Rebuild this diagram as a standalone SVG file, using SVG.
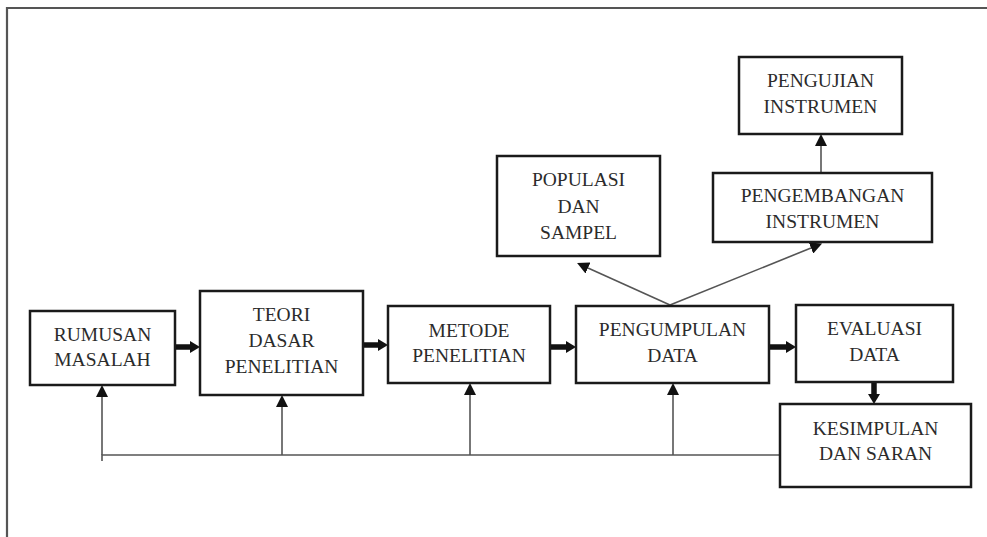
<svg xmlns="http://www.w3.org/2000/svg" width="987" height="537" viewBox="0 0 987 537">
<style>
.box{fill:#fff;stroke:#1a1a1a;stroke-width:2.5}
.t{font-family:"Liberation Serif","Times New Roman",serif;font-size:19.5px;fill:#2b2b2b;text-anchor:middle}
.thick{stroke:#111;stroke-width:5.5;fill:none}
.thin{stroke:#555;stroke-width:1.6;fill:none}
.frame{stroke:#555;stroke-width:2.2;fill:none}
</style>
<defs>
<marker id="hb" markerUnits="userSpaceOnUse" viewBox="0 0 10 12" markerWidth="10" markerHeight="12" refX="0" refY="6" orient="auto">
<path d="M0,0 L10,6 L0,12 z" fill="#111"/>
</marker>
<marker id="ht" markerUnits="userSpaceOnUse" viewBox="0 0 12 12" markerWidth="12" markerHeight="12" refX="0" refY="6" orient="auto">
<path d="M0,0 L12,6 L0,12 z" fill="#111"/>
</marker>
</defs>
<rect width="987" height="537" fill="#fff"/>
<path class="frame" d="M7,537 V8 H987"/>
<g id="connectors">
<line class="thick" x1="175" y1="347" x2="190" y2="347" marker-end="url(#hb)"/>
<line class="thick" x1="363" y1="345" x2="378" y2="345" marker-end="url(#hb)"/>
<line class="thick" x1="550" y1="347" x2="566" y2="347" marker-end="url(#hb)"/>
<line class="thick" x1="769" y1="347" x2="786" y2="347" marker-end="url(#hb)"/>
<line class="thick" x1="874" y1="382" x2="874" y2="394" marker-end="url(#hb)"/>
<path class="thin" d="M780,455 H102 V461"/>
<line class="thin" x1="102" y1="455" x2="102" y2="397" marker-end="url(#ht)"/>
<line class="thin" x1="282" y1="455" x2="282" y2="407" marker-end="url(#ht)"/>
<line class="thin" x1="470" y1="455" x2="470" y2="395" marker-end="url(#ht)"/>
<line class="thin" x1="673" y1="455" x2="673" y2="395" marker-end="url(#ht)"/>
<line class="thin" x1="670" y1="305" x2="588" y2="268" marker-end="url(#ht)"/>
<line class="thin" x1="670" y1="305" x2="811" y2="248" marker-end="url(#ht)"/>
<line class="thin" x1="821" y1="173" x2="821" y2="146" marker-end="url(#ht)"/>
</g>
<g id="rumusan">
<rect class="box" x="30" y="311" width="145" height="74"/>
<text class="t" x="102.5" y="341">RUMUSAN</text>
<text class="t" x="102.5" y="366">MASALAH</text>
</g>
<g id="teori">
<rect class="box" x="200" y="291" width="163" height="104"/>
<text class="t" x="281.5" y="321">TEORI</text>
<text class="t" x="281.5" y="347">DASAR</text>
<text class="t" x="281.5" y="373">PENELITIAN</text>
</g>
<g id="metode">
<rect class="box" x="388" y="306" width="162" height="77"/>
<text class="t" x="469" y="337">METODE</text>
<text class="t" x="469" y="362">PENELITIAN</text>
</g>
<g id="pengumpulan">
<rect class="box" x="576" y="306" width="193" height="77"/>
<text class="t" x="672.5" y="336">PENGUMPULAN</text>
<text class="t" x="672.5" y="362">DATA</text>
</g>
<g id="evaluasi">
<rect class="box" x="796" y="305" width="157" height="77"/>
<text class="t" x="874.5" y="335">EVALUASI</text>
<text class="t" x="874.5" y="361">DATA</text>
</g>
<g id="kesimpulan">
<rect class="box" x="780" y="404" width="191" height="83"/>
<text class="t" x="875.5" y="435">KESIMPULAN</text>
<text class="t" x="875.5" y="460">DAN SARAN</text>
</g>
<g id="populasi">
<rect class="box" x="497" y="156" width="163" height="100"/>
<text class="t" x="578.5" y="186">POPULASI</text>
<text class="t" x="578.5" y="213">DAN</text>
<text class="t" x="578.5" y="239">SAMPEL</text>
</g>
<g id="pengembangan">
<rect class="box" x="713" y="173" width="219" height="69"/>
<text class="t" x="822.5" y="202">PENGEMBANGAN</text>
<text class="t" x="822.5" y="228">INSTRUMEN</text>
</g>
<g id="pengujian">
<rect class="box" x="739" y="57" width="163" height="77"/>
<text class="t" x="820.5" y="87">PENGUJIAN</text>
<text class="t" x="820.5" y="113">INSTRUMEN</text>
</g>
</svg>
